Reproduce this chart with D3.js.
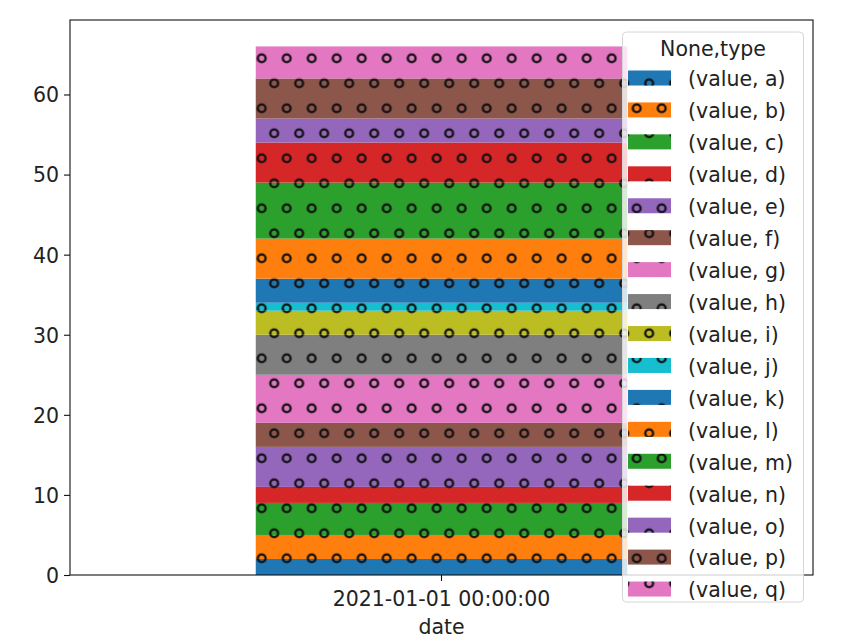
<!DOCTYPE html>
<html>
<head>
<meta charset="utf-8">
<script src="https://cdn.jsdelivr.net/npm/d3@7"></script>
<style>
  body { margin: 0; background: #fff; }
  text { font-family: "DejaVu Sans", sans-serif; fill: #222; }
</style>
</head>
<body>
<div id="chart"></div>
<script>
// Data
const dates = ["2021-01-01 00:00:00"];
const types = ["a", "b", "c", "d", "e", "f", "g", "h", "i", "j", "k", "l", "m", "n", "o", "p", "q"];
const values = [2, 3, 4, 2, 5, 3, 6, 5, 3, 1, 3, 5, 7, 5, 3, 5, 4];
const yTicks = [0, 10, 20, 30, 40, 50, 60];
const colors = ["#1f77b4", "#ff7f0e", "#2ca02c", "#d62728", "#9467bd", "#8c564b", "#e377c2",
  "#7f7f7f", "#bcbd22", "#17becf"];

function draw() {
  const fontSize = "20.5px";
  const dimensions = {
    width: 863,
    height: 644,
    margin: { top: 20, right: 50, bottom: 69, left: 70 },
  };
  dimensions.innerWidth = dimensions.width - dimensions.margin.left - dimensions.margin.right;
  dimensions.innerHeight = dimensions.height - dimensions.margin.top - dimensions.margin.bottom;

  const rows = dates.map((d) => {
    const row = { date: d };
    types.forEach((t, i) => (row[t] = values[i]));
    return row;
  });
  const stacked = d3.stack().keys(types)(rows);
  const total = d3.sum(values);

  const svg = d3
    .select("#chart")
    .append("svg")
    .attr("width", dimensions.width)
    .attr("height", dimensions.height);

  // hatch 'o' pattern, phase fixed in page coordinates
  const defs = svg.append("defs");
  function hatch(id, dx, dy) {
    const p = defs
      .append("pattern")
      .attr("id", id)
      .attr("patternUnits", "userSpaceOnUse")
      .attr("width", 25)
      .attr("height", 50)
      .attr("x", 261.7 - 6.25 - dx)
      .attr("y", 58.3 - 12.5 - dy);
    [[6.25, 12.5], [18.75, 37.5], [31.25, 37.5], [-6.25, 37.5]].forEach(([cx, cy]) => {
      p.append("circle")
        .attr("cx", cx)
        .attr("cy", cy)
        .attr("r", 3.9)
        .attr("fill", "none")
        .attr("stroke", "#111")
        .attr("stroke-width", 2.4);
    });
  }
  hatch("hatch-plot", dimensions.margin.left, dimensions.margin.top);
  hatch("hatch-page", 0, 0);

  const graph = svg
    .append("g")
    .attr("transform", `translate(${dimensions.margin.left}, ${dimensions.margin.top})`);

  const xScale = d3
    .scaleBand()
    .domain(dates)
    .range([0, dimensions.innerWidth])
    .paddingInner(0.5)
    .paddingOuter(0.25);

  const yScale = d3
    .scaleLinear()
    .domain([0, total * 1.05])
    .range([dimensions.innerHeight, 0]);

  // stacked bar segments
  const layers = graph
    .selectAll("g.layer")
    .data(stacked)
    .enter()
    .append("g")
    .attr("class", "layer");

  layers
    .selectAll("rect.fill")
    .data((d) => d.map((s) => ({ s, key: d.key, i: d.index })))
    .enter()
    .append("rect")
    .attr("x", (d) => xScale(d.s.data.date))
    .attr("y", (d) => yScale(d.s[1]))
    .attr("width", xScale.bandwidth())
    .attr("height", (d) => yScale(d.s[0]) - yScale(d.s[1]))
    .attr("fill", (d) => colors[d.i % colors.length]);

  layers
    .selectAll("rect.hatch")
    .data((d) => d.map((s) => ({ s, key: d.key, i: d.index })))
    .enter()
    .append("rect")
    .attr("x", (d) => xScale(d.s.data.date))
    .attr("y", (d) => yScale(d.s[1]))
    .attr("width", xScale.bandwidth())
    .attr("height", (d) => yScale(d.s[0]) - yScale(d.s[1]))
    .attr("fill", "url(#hatch-plot)");

  // axes
  const xAxis = graph
    .append("g")
    .attr("transform", `translate(0, ${dimensions.innerHeight})`)
    .call(d3.axisBottom(xScale).tickSizeInner(6).tickSizeOuter(0).tickPadding(10));
  const yAxis = graph
    .append("g")
    .call(d3.axisLeft(yScale).tickValues(yTicks).tickSizeInner(6).tickSizeOuter(0).tickPadding(5));

  [xAxis, yAxis].forEach((a) => {
    a.select(".domain").remove();
    a.selectAll(".tick line").attr("stroke", "#111").attr("stroke-width", 1.1);
    a.selectAll(".tick text").style("font-size", fontSize).attr("fill", "#222");
  });
  xAxis.selectAll(".tick text").attr("dy", "0.71em");
  yAxis.selectAll(".tick text").attr("dy", "0.36em");

  // frame
  graph
    .append("rect")
    .attr("width", dimensions.innerWidth)
    .attr("height", dimensions.innerHeight)
    .attr("fill", "none")
    .attr("stroke", "#111")
    .attr("stroke-width", 1.1);

  // x label
  graph
    .append("text")
    .attr("x", dimensions.innerWidth / 2)
    .attr("y", dimensions.innerHeight + 59)
    .attr("text-anchor", "middle")
    .style("font-size", fontSize)
    .text("date");

  // legend (page coordinates)
  const legend = { x: 622.5, y: 32, w: 181, h: 570, rowY: 79, rowStep: 31.94 };
  svg
    .append("rect")
    .attr("x", legend.x)
    .attr("y", legend.y)
    .attr("width", legend.w)
    .attr("height", legend.h)
    .attr("rx", 4)
    .attr("fill", "rgba(255,255,255,0.8)")
    .attr("stroke", "#d6d6d6")
    .attr("stroke-width", 1);

  svg
    .append("text")
    .attr("x", legend.x + legend.w / 2)
    .attr("y", 49)
    .attr("dy", "0.36em")
    .attr("text-anchor", "middle")
    .style("font-size", fontSize)
    .text("None,type");

  const items = svg
    .selectAll("g.legend-item")
    .data(types)
    .enter()
    .append("g")
    .attr("class", "legend-item");

  items
    .append("rect")
    .attr("x", 628)
    .attr("y", (d, i) => legend.rowY - 1 + i * legend.rowStep - 7.5)
    .attr("width", 43)
    .attr("height", 15)
    .attr("fill", (d, i) => colors[i % colors.length]);
  items
    .append("rect")
    .attr("x", 628)
    .attr("y", (d, i) => legend.rowY - 1 + i * legend.rowStep - 7.5)
    .attr("width", 43)
    .attr("height", 15)
    .attr("fill", "url(#hatch-page)");

  items
    .append("text")
    .attr("x", 688)
    .attr("y", (d, i) => legend.rowY + i * legend.rowStep)
    .attr("dy", "0.36em")
    .style("font-size", fontSize)
    .text((d) => `(value, ${d})`);
}

draw();
</script>
</body>
</html>
